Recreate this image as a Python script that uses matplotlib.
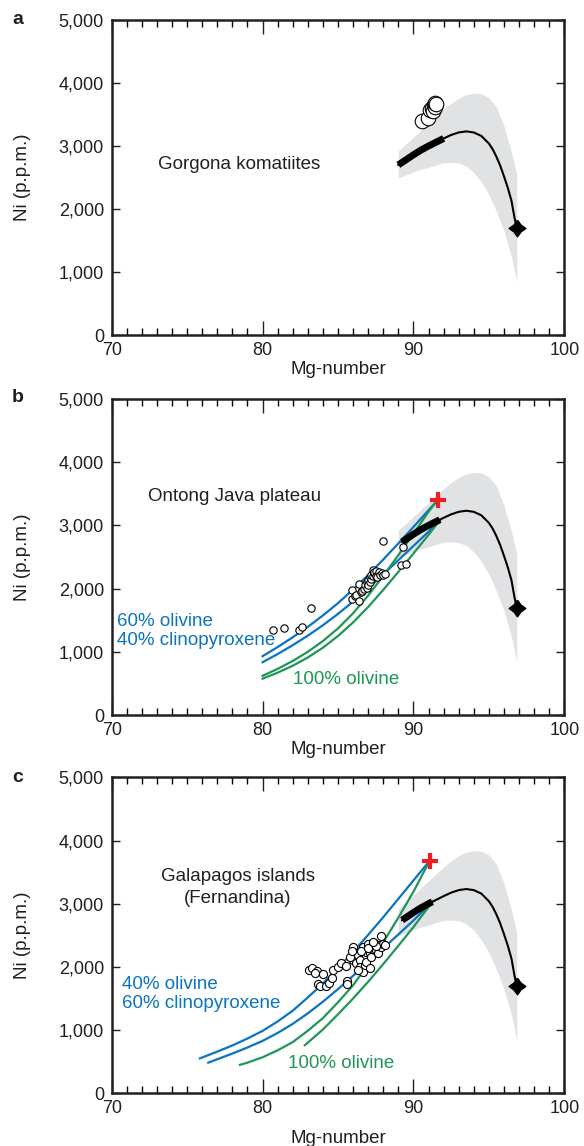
import matplotlib
matplotlib.use("Agg")
import matplotlib.pyplot as plt
from matplotlib.ticker import MultipleLocator

plt.rcParams['font.family'] = ['Liberation Sans', 'DejaVu Sans']
TXT = '#231f20'
BLUE = '#0a74c2'
GREEN = '#1e9656'
RED = '#ee1c25'
GRAY = '#e1e2e4'

# ---------------- data ----------------
x_ticks = [70, 80, 90, 100]
x_tick_labels = ['70', '80', '90', '100']
y_ticks = [0, 1000, 2000, 3000, 4000, 5000]
y_tick_labels = ['0', '1,000', '2,000', '3,000', '4,000', '5,000']
panel_letters = ['a', 'b', 'c']

# model curve (olivine in equilibrium with melts)
curve_mg = [89.0, 89.25, 89.5, 90.0, 90.5, 91.0, 91.25, 91.5, 91.75, 92.0, 92.5, 93.0,
            93.5, 94.0, 94.5, 95.0, 95.25, 95.5, 95.75, 96.0, 96.25, 96.5, 96.7, 96.85]
curve_ni = [2700, 2740, 2780, 2860, 2935, 3000, 3030, 3060, 3090, 3120, 3175, 3215,
            3232, 3215, 3160, 3040, 2950, 2830, 2690, 2520, 2340, 2130, 1860, 1700]
# uncertainty envelope
env_mg = [89.0, 89.5, 90.0, 90.5, 91.0, 91.5, 92.0, 92.5, 93.0, 93.5, 94.0, 94.5,
          95.0, 95.5, 96.0, 96.5, 96.85]
env_upper = [2920, 3030, 3140, 3250, 3360, 3470, 3580, 3680, 3760, 3815, 3840, 3830,
             3770, 3620, 3320, 2900, 2540]
env_lower = [2490, 2540, 2590, 2630, 2660, 2700, 2735, 2740, 2730, 2680, 2580, 2430,
             2230, 1960, 1650, 1240, 840]
# Mg-number range of the thick part of the curve in each panel
thick_range_a = (89.0, 92.0)
thick_range_b = (89.25, 91.75)
thick_range_c = (89.25, 91.25)
# end-member (peridotite olivine)
star_mg = [96.85]
star_ni = [1700]

# ---- a: Gorgona komatiites ----
gorg_mg = [90.55, 90.97, 91.1, 91.2, 91.3, 91.35, 91.4, 91.45, 91.5]
gorg_ni = [3400, 3440, 3570, 3600, 3560, 3650, 3620, 3680, 3660]

# ---- b: Ontong Java plateau ----
oj_mg = [80.7, 81.4, 82.4, 82.6, 83.2, 85.9, 85.9, 86.1, 86.2, 86.4, 86.4, 86.5, 86.6,
         86.7, 86.8, 86.9, 86.9, 87.0, 87.0, 87.1, 87.1, 87.2, 87.2, 87.3, 87.3, 87.4,
         87.4, 87.5, 87.5, 87.6, 87.7, 87.8, 87.9, 88.0, 88.1, 87.95, 89.3, 89.15, 89.5]
oj_ni = [1350, 1380, 1340, 1390, 1690, 1970, 1830, 1880, 1900, 2080, 1800, 1950, 1960,
         2000, 2050, 2010, 2100, 2130, 2060, 2110, 2180, 2150, 2220, 2200, 2290, 2240,
         2260, 2280, 2200, 2190, 2270, 2220, 2240, 2215, 2230, 2750, 2660, 2370, 2385]
oj_cross_mg = [91.6]
oj_cross_ni = [3400]
oj_blue1_mg = [80, 81, 82, 83, 84, 85, 86, 87, 88, 89, 90, 91, 91.6]
oj_blue1_ni = [930, 1075, 1230, 1395, 1575, 1770, 1985, 2215, 2460, 2715, 2975, 3240, 3400]
oj_blue2_mg = [80, 81, 82, 83, 84, 85, 86, 87, 88, 89, 90, 91, 91.75]
oj_blue2_ni = [835, 965, 1105, 1255, 1420, 1600, 1795, 2005, 2225, 2450, 2675, 2900, 3085]
oj_green1_mg = [80, 81, 82, 83, 84, 85, 86, 87, 88, 89, 90, 91, 91.6]
oj_green1_ni = [620, 730, 855, 1000, 1170, 1370, 1610, 1890, 2200, 2530, 2870, 3215, 3400]
oj_green2_mg = [80, 81, 82, 83, 84, 85, 86, 87, 88, 89, 90, 91, 91.75]
oj_green2_ni = [575, 670, 780, 910, 1065, 1250, 1465, 1710, 1980, 2265, 2555, 2850, 3085]

# ---- c: Galapagos (Fernandina) ----
gal_mg = [83.1, 83.3, 83.6, 83.5, 84.0, 83.65, 83.8, 84.2, 84.4, 84.6, 84.7, 85.0, 85.2,
          85.6, 85.6, 85.5, 86.0, 86.0, 86.1, 86.2, 86.33, 86.44, 86.44, 86.66, 86.66,
          86.77, 86.88, 86.88, 86.99, 87.1, 87.1, 87.2, 87.33, 87.44, 87.55, 87.66,
          87.77, 87.84, 87.88, 87.99, 88.1, 85.8, 86.5, 87.0, 87.5, 87.3, 86.3, 85.9]
gal_ni = [1950, 1975, 1930, 1900, 1880, 1730, 1690, 1700, 1750, 1820, 1950, 2000, 2060,
          1770, 1730, 2020, 2320, 2110, 2215, 2060, 2190, 2110, 2000, 2320, 1925,
          2030, 2240, 2080, 2370, 2215, 1980, 2160, 2290, 2370, 2270, 2215,
          2350, 2490, 2320, 2370, 2350, 2150, 2250, 2300, 2330, 2400, 1950, 2250]
gal_cross_mg = [91.08]
gal_cross_ni = [3680]
gal_blue1_mg = [75.85, 77, 78, 79, 80, 81, 82, 83, 84, 85, 86, 87, 88, 89, 90, 91.08]
gal_blue1_ni = [553, 660, 757, 867, 987, 1137, 1307, 1517, 1737, 1982, 2237, 2507, 2787,
                3077, 3367, 3680]
gal_blue2_mg = [76.4, 77, 78, 79, 80, 81, 82, 83, 84, 85, 86, 87, 88, 89, 90, 91.25]
gal_blue2_ni = [485, 539, 629, 725, 829, 955, 1099, 1265, 1449, 1649, 1859, 2074, 2294,
                2514, 2734, 3030]
gal_green1_mg = [78.5, 79, 80, 81, 82, 83, 84, 85, 86, 87, 88, 89, 90, 91.08]
gal_green1_ni = [450, 485, 570, 680, 810, 990, 1190, 1440, 1710, 2040, 2390, 2780, 3190, 3680]
gal_green2_mg = [82.8, 84, 85, 86, 87, 88, 89, 90, 91.25]
gal_green2_ni = [760, 1010, 1250, 1500, 1765, 2045, 2335, 2630, 3030]

# ---------------- figure ----------------
W, H = 584, 1146
fig = plt.figure(figsize=(W / 100, H / 100), dpi=100)

def px_axes(left, top, right, bottom):
    return fig.add_axes([left / W, 1 - bottom / H, (right - left) / W, (bottom - top) / H])

ax_a = px_axes(111.7, 20, 564.3, 335)
ax_b = px_axes(111.7, 399, 564.3, 715)
ax_c = px_axes(111.7, 777.3, 564.3, 1093.3)
axes = [ax_a, ax_b, ax_c]
xlabel_y = [-0.083, -0.082, -0.117]
letter_y = [20, 398, 778]
FS = 13.5
TFS = 13

for ax, letter, xly, ly in zip(axes, panel_letters, xlabel_y, letter_y):
    ax.set_xlim(70, 100)
    ax.set_ylim(0, 5000)
    ax.set_xticks(x_ticks)
    ax.set_xticklabels(x_tick_labels)
    ax.set_yticks(y_ticks)
    ax.set_yticklabels(y_tick_labels)
    ax.xaxis.set_minor_locator(MultipleLocator(1))
    ax.tick_params(axis='x', which='major', direction='in', top=True, bottom=True,
                   length=10, width=1.0, labelsize=TFS, colors=TXT, pad=5)
    ax.tick_params(axis='x', which='minor', direction='in', top=True, bottom=True,
                   length=5, width=1.0)
    ax.tick_params(axis='y', which='major', direction='in', left=True, right=True,
                   length=6, width=1.0, labelsize=TFS, colors=TXT, pad=5.5)
    for sp in ax.spines.values():
        sp.set_linewidth(1.8)
        sp.set_color(TXT)
    ax.set_xlabel('Mg-number', fontsize=FS, color=TXT)
    ax.xaxis.set_label_coords(0.5, xly)
    ax.set_ylabel('Ni (p.p.m.)', fontsize=FS, color=TXT)
    ax.yaxis.set_label_coords(-0.178, 0.5)
    fig.text(12 / W, 1 - ly / H, letter, fontsize=14, fontweight='bold',
             ha='left', va='center', color=TXT)
    ax.fill_between(env_mg, env_lower, env_upper, color=GRAY, lw=0, zorder=1)

thick_ranges = [thick_range_a, thick_range_b, thick_range_c]

for mg, ni, c in [(oj_blue1_mg, oj_blue1_ni, BLUE), (oj_blue2_mg, oj_blue2_ni, BLUE),
                  (oj_green1_mg, oj_green1_ni, GREEN), (oj_green2_mg, oj_green2_ni, GREEN)]:
    ax_b.plot(mg, ni, color=c, lw=1.6, zorder=3, solid_joinstyle='round')
for mg, ni, c in [(gal_blue1_mg, gal_blue1_ni, BLUE), (gal_blue2_mg, gal_blue2_ni, BLUE),
                  (gal_green1_mg, gal_green1_ni, GREEN), (gal_green2_mg, gal_green2_ni, GREEN)]:
    ax_c.plot(mg, ni, color=c, lw=1.6, zorder=3, solid_joinstyle='round')

star_verts = [(0, 1), (0.42, 0.42), (1, 0), (0.42, -0.42), (0, -1), (-0.42, -0.42),
              (-1, 0), (-0.42, 0.42), (0, 1)]

for ax, (t0, t1) in zip(axes, thick_ranges):
    cm = [m for m in curve_mg if m >= t0]
    cn = [n for m, n in zip(curve_mg, curve_ni) if m >= t0]
    ax.plot(cm, cn, color='black', lw=1.5, zorder=4, solid_joinstyle='round')
    tm = [m for m in curve_mg if t0 <= m <= t1]
    tn = [n for m, n in zip(curve_mg, curve_ni) if t0 <= m <= t1]
    ax.plot(tm, tn, color='black', lw=5, zorder=4, solid_capstyle='butt',
            solid_joinstyle='round')
    ax.plot(star_mg, star_ni, marker=star_verts, ms=12, color='black', mew=1.0,
            ls='none', zorder=6)

ax_a.scatter(gorg_mg, gorg_ni, s=110, facecolor='white', edgecolor='black',
             linewidth=0.8, zorder=5)
ax_b.scatter(oj_mg, oj_ni, s=28, facecolor='white', edgecolor='black',
             linewidth=0.8, zorder=5)
ax_c.scatter(gal_mg, gal_ni, s=34, facecolor='white', edgecolor='black',
             linewidth=0.8, zorder=5)

ax_b.plot(oj_cross_mg, oj_cross_ni, marker='+', ms=11, mew=3, color=RED, ls='none', zorder=7)
ax_c.plot(gal_cross_mg, gal_cross_ni, marker='+', ms=11, mew=3, color=RED, ls='none', zorder=7)

ax_a.text(73.1, 2700, 'Gorgona komatiites', fontsize=FS, color=TXT, va='center', ha='left')
ax_b.text(72.4, 3465, 'Ontong Java plateau', fontsize=FS, color=TXT, va='center', ha='left')
ax_b.text(70.35, 1487, '60% olivine', fontsize=FS, color=BLUE, va='center', ha='left')
ax_b.text(70.35, 1171, '40% clinopyroxene', fontsize=FS, color=BLUE, va='center', ha='left')
ax_b.text(82.0, 554, '100% olivine', fontsize=FS, color=GREEN, va='center', ha='left')
ax_c.text(78.36, 3438, 'Galapagos islands', fontsize=FS, color=TXT, va='center', ha='center')
ax_c.text(78.36, 3090, '(Fernandina)', fontsize=FS, color=TXT, va='center', ha='center')
ax_c.text(70.68, 1729, '40% olivine', fontsize=FS, color=BLUE, va='center', ha='left')
ax_c.text(70.68, 1413, '60% clinopyroxene', fontsize=FS, color=BLUE, va='center', ha='left')
ax_c.text(81.7, 464, '100% olivine', fontsize=FS, color=GREEN, va='center', ha='left')

fig.savefig('out.png', dpi=100)
